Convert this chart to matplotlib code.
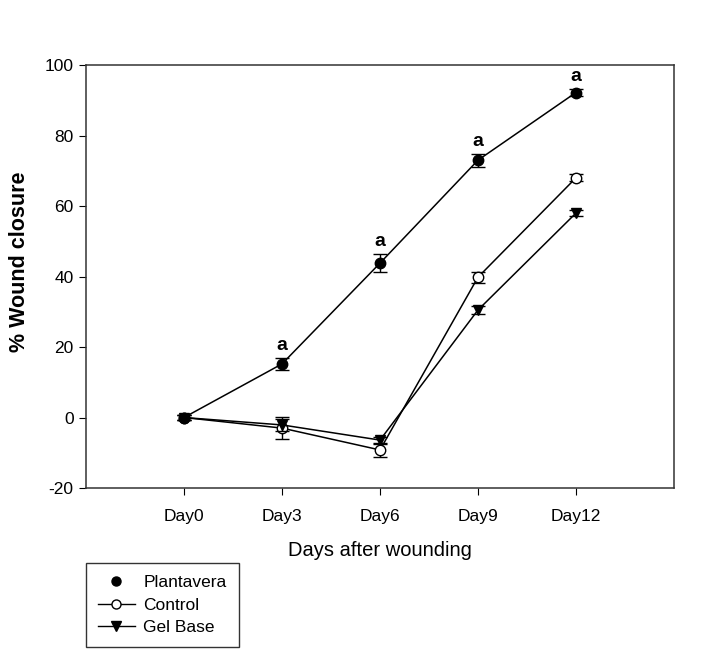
import matplotlib
matplotlib.use("Agg")
import matplotlib.pyplot as plt
from matplotlib.lines import Line2D

plt.rcParams['font.family'] = ['Liberation Sans', 'DejaVu Sans']
plt.rcParams['axes.unicode_minus'] = False

days = ["Day0", "Day3", "Day6", "Day9", "Day12"]
plantavera = [0, 15.2, 43.8, 73.0, 92.2]
plantavera_err = [0.8, 1.6, 2.5, 1.8, 1.0]
control = [0, -3.0, -9.2, 39.8, 68.0]
control_err = [0.8, 3.1, 2.0, 1.5, 1.0]
gelbase = [0, -2.1, -6.4, 30.5, 58.0]
gelbase_err = [0.8, 1.7, 1.0, 1.0, 0.8]
sig_labels = ["", "a", "a", "a", "a"]

fig = plt.figure(figsize=(7.09, 6.52), dpi=100)
ax = fig.add_axes([0.1213, 0.2515, 0.8293, 0.6488])

x = list(range(len(days)))
lw = 1.1
ax.errorbar(x, control, yerr=control_err, color='black', marker='o', markersize=7.5,
            markerfacecolor='white', markeredgecolor='black', lw=lw, capsize=5,
            elinewidth=1, capthick=1, zorder=3)
ax.errorbar(x, gelbase, yerr=gelbase_err, color='black', marker='v', markersize=7.5,
            markerfacecolor='black', lw=lw, capsize=5, elinewidth=1, capthick=1, zorder=4)
ax.errorbar(x, plantavera, yerr=plantavera_err, color='black', marker='o', markersize=7.5,
            markerfacecolor='black', lw=lw, capsize=5, elinewidth=1, capthick=1, zorder=5)

for xi, yi, ei, s in zip(x, plantavera, plantavera_err, sig_labels):
    if s:
        ax.text(xi, yi + ei + 1.2, s, ha='center', va='bottom', fontsize=14, fontweight='bold')

ax.set_xlim(-1, 5)
ax.set_ylim(-20, 100)
ax.set_xticks(x)
ax.set_xticklabels(days, fontsize=12.5)
ax.set_yticks(range(-20, 101, 20))
ax.tick_params(axis='y', labelsize=12.5, direction='out', length=5, pad=4)
ax.tick_params(axis='x', direction='out', length=5, pad=10)
ax.set_xlabel("Days after wounding", fontsize=14.5, labelpad=12)
ax.set_ylabel("% Wound closure", fontsize=15.5, fontweight='bold')
ax.yaxis.set_label_coords(-0.095, 0.535)
for sp in ax.spines.values():
    sp.set_linewidth(1.1)
    sp.set_color('#333333')

handles = [
    Line2D([], [], color='black', marker='o', markersize=6.5, markerfacecolor='black', lw=0),
    Line2D([], [], color='black', marker='o', markersize=6.5, markerfacecolor='white', lw=1),
    Line2D([], [], color='black', marker='v', markersize=6.5, markerfacecolor='black', lw=1),
]
leg = fig.legend(handles, ["Plantavera", "Control", "Gel Base"], loc='upper left',
                 bbox_to_anchor=(0.1213, 0.1365), borderaxespad=0, frameon=True,
                 fancybox=False, edgecolor='black', fontsize=12.5, handlelength=2.1,
                 handletextpad=0.5, borderpad=0.7, labelspacing=0.42)
leg.get_frame().set_linewidth(1.0)

fig.savefig("out.png", dpi=100)
